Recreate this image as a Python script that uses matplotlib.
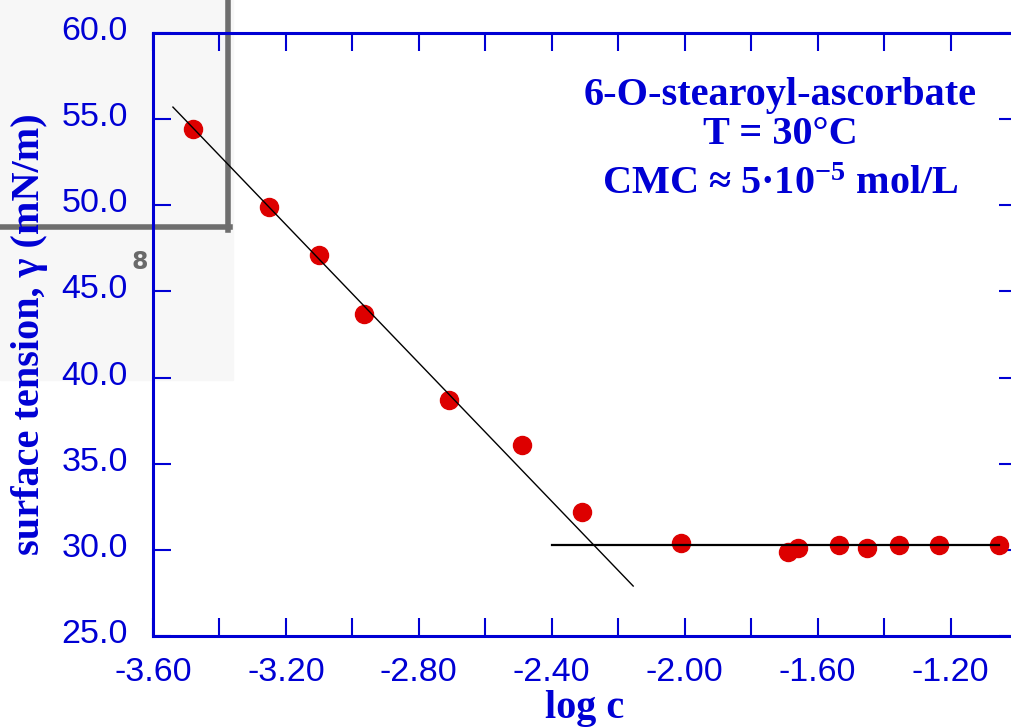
import matplotlib
matplotlib.use("Agg")
import matplotlib.pyplot as plt
import matplotlib.transforms as mtransforms
from matplotlib.patches import Rectangle
from matplotlib.lines import Line2D

# measured points, log c vs surface tension (mN/m)
log_c = [-3.48, -3.25, -3.10, -2.965, -2.71, -2.49, -2.31, -2.01,
         -1.69, -1.66, -1.535, -1.45, -1.355, -1.235, -1.055]
gamma = [54.4, 49.9, 47.1, 43.7, 38.7, 36.1, 32.2, 30.4,
         29.9, 30.1, 30.3, 30.1, 30.3, 30.3, 30.3]

# fitted lines
fit_x = [-3.54, -2.155]
fit_y = [55.7, 27.9]
plateau_x = [-2.40, -1.055]
plateau_y = [30.3, 30.3]

xticks = [-3.6, -3.4, -3.2, -3.0, -2.8, -2.6, -2.4, -2.2, -2.0,
          -1.8, -1.6, -1.4, -1.2, -1.0]
xlabels = ["-3.60", "", "-3.20", "", "-2.80", "", "-2.40", "", "-2.00",
           "", "-1.60", "", "-1.20", ""]
yticks = [25, 30, 35, 40, 45, 50, 55, 60]
ylabels = ["25.0", "30.0", "35.0", "40.0", "45.0", "50.0", "55.0", "60.0"]

blue = "#0000d4"
red = "#dd0000"

plt.rcParams["mathtext.fontset"] = "custom"
plt.rcParams["mathtext.rm"] = "Liberation Serif:bold"
plt.rcParams["mathtext.it"] = "Liberation Serif:bold"
plt.rcParams["mathtext.bf"] = "Liberation Serif:bold"

W, H = 1012, 727
fig = plt.figure(figsize=(W / 100, H / 100), dpi=100)

# grey screenshot leftover in the upper left corner
fig.add_artist(Rectangle((0, 1 - 380 / H), 233 / W, 380 / H,
                         transform=fig.transFigure, color="#f7f7f7", zorder=-2))
fig.add_artist(Line2D([228 / W, 228 / W], [1, 1 - 230 / H],
                      transform=fig.transFigure, color="#6e6e6e", lw=4, zorder=-1))
fig.add_artist(Line2D([0, 230 / W], [1 - 227 / H, 1 - 227 / H],
                      transform=fig.transFigure, color="#6e6e6e", lw=4, zorder=-1))
fig.text(140 / W, 1 - 262 / H, "8", color="#6a6a6a", fontsize=17,
         fontweight="bold", ha="center", va="center", zorder=-1)

ax = fig.add_axes([153 / W, 1 - 636 / H, 864 / W, 603 / H])
ax.set_facecolor("none")

ax.plot(log_c, gamma, "o", color=red, markersize=13, zorder=2)
ax.plot(fit_x, fit_y, color="black", lw=1.0, zorder=3)
ax.plot(plateau_x, plateau_y, color="black", lw=1.6, zorder=3)

ax.set_xlim(-3.6, -1.0)
ax.set_ylim(25, 60)
ax.set_xticks(xticks)
ax.set_xticklabels(xlabels)
ax.set_yticks(yticks)
ax.set_yticklabels(ylabels)

for s in ax.spines.values():
    s.set_color(blue)
    s.set_linewidth(2.2)

ax.tick_params(axis="both", direction="in", length=13, width=1.5, color=blue,
               labelcolor=blue, labelsize=24.5)
ax.tick_params(axis="x", top=True, pad=15)
ax.tick_params(axis="y", right=True, pad=18)
for lab in ax.get_xticklabels() + ax.get_yticklabels():
    lab.set_fontfamily("Liberation Sans")
offset = mtransforms.ScaledTranslation(0, 5 / 100, fig.dpi_scale_trans)
for lab in ax.get_yticklabels():
    lab.set_transform(lab.get_transform() + offset)

ax.set_xlabel("log c", color=blue, fontsize=29, fontweight="bold",
              family="Liberation Serif")
ax.set_ylabel("surface tension, γ (mN/m)", color=blue, fontsize=29,
              fontweight="bold", family="Liberation Serif")
ax.xaxis.set_label_coords((585 - 153) / 864, -0.09)
ax.yaxis.set_label_coords((48 - 153) / 864, 0.5)

kw = dict(transform=ax.transAxes, color=blue, fontsize=29, fontweight="bold",
          family="Liberation Serif", ha="center", va="center")
ax.text(0.7257, 0.897, "6-O-stearoyl-ascorbate", **kw)
ax.text(0.7257, 0.831, "T = 30°C", **kw)
ax.text(0.7257, 0.748, r"CMC ≈ 5·10$^{-5}$ mol/L", **kw)

fig.savefig("out.png", dpi=100)
